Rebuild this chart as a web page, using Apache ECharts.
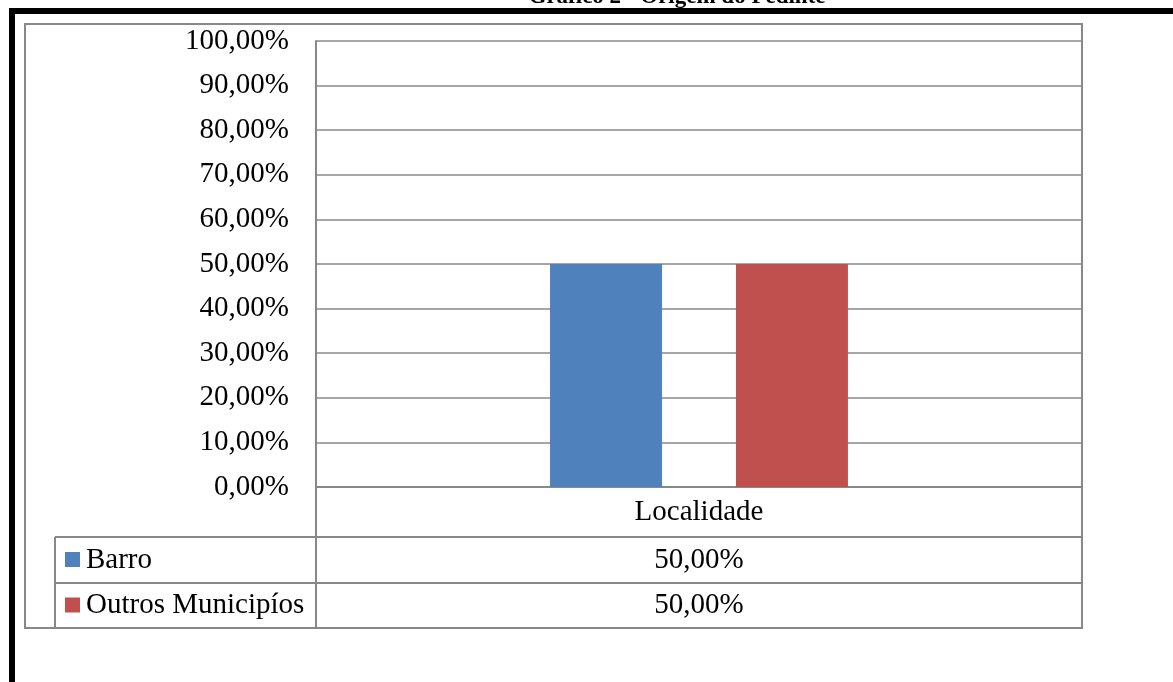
<!DOCTYPE html>
<html>
<head>
<meta charset="utf-8">
<script src="https://cdn.jsdelivr.net/npm/echarts@6/dist/echarts.min.js"></script>
<style>
  html, body { margin: 0; padding: 0; background: #fff; }
  #chart { width: 1173px; height: 682px; }
</style>
</head>
<body>
<div id="chart"></div>
<script>
// Chart content
const titleText = 'Gráfico 2 - Origem do Pedinte';
const categories = ['Localidade'];
const seriesNames = ['Barro', 'Outros Municipíos'];
const barroValues = [0.5];
const outrosValues = [0.5];
const seriesColors = ['#4F81BD', '#C0504D'];
const yTicks = [0, 0.1, 0.2, 0.3, 0.4, 0.5, 0.6, 0.7, 0.8, 0.9, 1.0];

// Layout
const FONT = '"Liberation Serif", "Times New Roman", serif';
const FS = 29;
const GRID = { left: 316, top: 41, right: 1082, bottom: 487 };
const FRAME = { left: 25, top: 24, right: 1082, bottom: 628 };
const ROW1 = 537, ROW2 = 583;
const LEGEND_LEFT = 55;
const LINE = '#888888';

const pct = v => (v * 100).toFixed(2).replace('.', ',') + '%';

const chart = echarts.init(document.getElementById('chart'), null, { renderer: 'canvas' });

const allSeries = [barroValues, outrosValues];
const rowCenters = [(ROW1 + ROW2) / 2, (ROW2 + FRAME.bottom) / 2];

const graphics = [];
// outer page frame (black)
graphics.push({ type: 'rect', shape: { x: 10, y: 8, width: 1163, height: 6 }, style: { fill: '#000' }, z: 10 });
graphics.push({ type: 'rect', shape: { x: 9, y: 8, width: 6, height: 674 }, style: { fill: '#000' }, z: 10 });
// title (partly above the page)
graphics.push({
  type: 'text', x: 677, y: 9, z: 9,
  style: { text: titleText, font: 'bold 23px ' + FONT, fill: '#000', align: 'center', verticalAlign: 'bottom' }
});
// chart frame
graphics.push({
  type: 'rect', shape: { x: FRAME.left, y: FRAME.top, width: FRAME.right - FRAME.left, height: FRAME.bottom - FRAME.top },
  style: { fill: 'none', stroke: LINE, lineWidth: 2 }, z: 5
});
// data table lines
[ROW1, ROW2].forEach(y => {
  graphics.push({ type: 'line', shape: { x1: LEGEND_LEFT, y1: y, x2: GRID.right, y2: y }, style: { stroke: LINE, lineWidth: 2 }, z: 5 });
});
graphics.push({ type: 'line', shape: { x1: LEGEND_LEFT, y1: ROW1, x2: LEGEND_LEFT, y2: FRAME.bottom }, style: { stroke: LINE, lineWidth: 2 }, z: 5 });
graphics.push({ type: 'line', shape: { x1: GRID.left, y1: GRID.bottom, x2: GRID.left, y2: FRAME.bottom }, style: { stroke: LINE, lineWidth: 2 }, z: 5 });
// data table rows: legend key, name, value
seriesNames.forEach((name, i) => {
  const cy = rowCenters[i];
  graphics.push({ type: 'rect', shape: { x: 65, y: cy - 8, width: 15, height: 15 }, style: { fill: seriesColors[i] }, z: 6 });
  graphics.push({
    type: 'text', x: 86, y: cy, z: 6,
    style: { text: name, font: FS + 'px ' + FONT, fill: '#000', align: 'left', verticalAlign: 'middle' }
  });
  graphics.push({
    type: 'text', x: (GRID.left + GRID.right) / 2, y: cy, z: 6,
    style: { text: pct(allSeries[i][0]), font: FS + 'px ' + FONT, fill: '#000', align: 'center', verticalAlign: 'middle' }
  });
});

chart.setOption({
  animation: false,
  backgroundColor: '#fff',
  grid: {
    left: GRID.left, top: GRID.top,
    right: 1173 - GRID.right, bottom: 682 - GRID.bottom,
    containLabel: false
  },
  xAxis: {
    type: 'category',
    data: categories,
    axisLine: { show: true, lineStyle: { color: LINE, width: 2 } },
    axisTick: { show: false },
    axisLabel: {
      color: '#000', fontFamily: FONT, fontSize: FS,
      margin: (ROW1 - GRID.bottom) / 2, verticalAlign: 'middle'
    },
    splitLine: { show: false }
  },
  yAxis: {
    type: 'value',
    min: 0, max: 1, interval: 0.1,
    axisLine: { show: true, lineStyle: { color: LINE, width: 2 } },
    axisTick: { show: false },
    axisLabel: {
      color: '#000', fontFamily: FONT, fontSize: FS, margin: 27,
      formatter: v => pct(v)
    },
    splitLine: { show: true, lineStyle: { color: LINE, width: 1.5 } }
  },
  series: [
    { name: seriesNames[0], type: 'bar', data: barroValues, barWidth: 112, barGap: '66%', itemStyle: { color: seriesColors[0] } },
    { name: seriesNames[1], type: 'bar', data: outrosValues, barWidth: 112, barGap: '66%', itemStyle: { color: seriesColors[1] } }
  ],
  graphic: graphics
});
</script>
</body>
</html>
